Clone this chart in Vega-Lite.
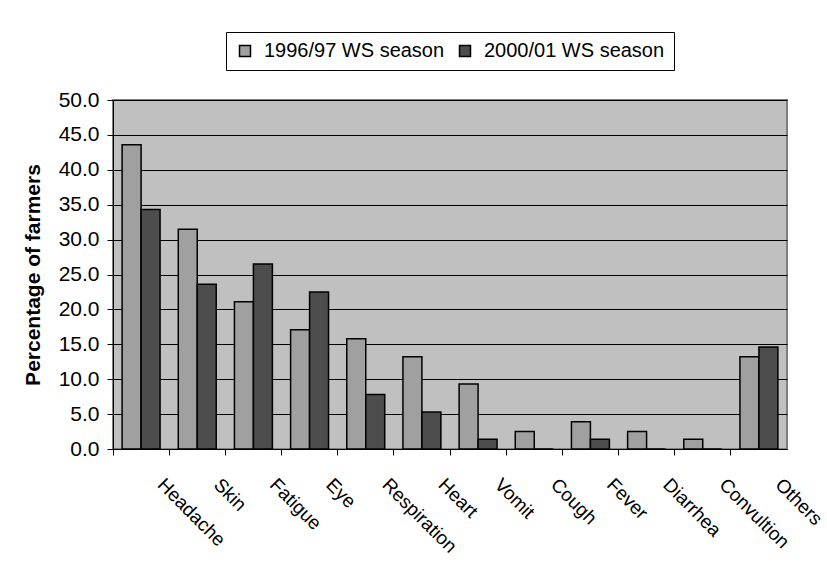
{
  "$schema": "https://vega.github.io/schema/vega-lite/v6.json",
  "autosize": "none",
  "width": 674,
  "height": 349,
  "padding": {"left": 113, "top": 100, "right": 40, "bottom": 116},
  "background": "white",
  "data": {
    "values": [
      {"category": "Headache", "season": "1996/97 WS season", "value": 43.6},
      {"category": "Headache", "season": "2000/01 WS season", "value": 34.3},
      {"category": "Skin", "season": "1996/97 WS season", "value": 31.5},
      {"category": "Skin", "season": "2000/01 WS season", "value": 23.6},
      {"category": "Fatigue", "season": "1996/97 WS season", "value": 21.1},
      {"category": "Fatigue", "season": "2000/01 WS season", "value": 26.5},
      {"category": "Eye", "season": "1996/97 WS season", "value": 17.1},
      {"category": "Eye", "season": "2000/01 WS season", "value": 22.5},
      {"category": "Respiration", "season": "1996/97 WS season", "value": 15.8},
      {"category": "Respiration", "season": "2000/01 WS season", "value": 7.8},
      {"category": "Heart", "season": "1996/97 WS season", "value": 13.2},
      {"category": "Heart", "season": "2000/01 WS season", "value": 5.3},
      {"category": "Vomit", "season": "1996/97 WS season", "value": 9.3},
      {"category": "Vomit", "season": "2000/01 WS season", "value": 1.4},
      {"category": "Cough", "season": "1996/97 WS season", "value": 2.5},
      {"category": "Cough", "season": "2000/01 WS season", "value": 0},
      {"category": "Fever", "season": "1996/97 WS season", "value": 3.9},
      {"category": "Fever", "season": "2000/01 WS season", "value": 1.4},
      {"category": "Diarrhea", "season": "1996/97 WS season", "value": 2.5},
      {"category": "Diarrhea", "season": "2000/01 WS season", "value": 0},
      {"category": "Convultion", "season": "1996/97 WS season", "value": 1.4},
      {"category": "Convultion", "season": "2000/01 WS season", "value": 0},
      {"category": "Others", "season": "1996/97 WS season", "value": 13.2},
      {"category": "Others", "season": "2000/01 WS season", "value": 14.6}
    ]
  },
  "mark": {"type": "bar", "stroke": "#000000", "strokeWidth": 1.5},
  "encoding": {
    "x": {
      "field": "category",
      "type": "nominal",
      "sort": ["Headache", "Skin", "Fatigue", "Eye", "Respiration", "Heart", "Vomit", "Cough", "Fever", "Diarrhea", "Convultion", "Others"],
      "scale": {"paddingInner": 0, "paddingOuter": 0},
      "axis": {
        "title": null,
        "bandPosition": 0,
        "labelAngle": 45,
        "labelAlign": "left",
        "labelBaseline": "top",
        "labelOffset": 26,
        "labelPadding": 20,
        "labelFontSize": 19,
        "labelFont": "Liberation Sans",
        "labelColor": "#000000",
        "labelLimit": 300,
        "labelBound": false,
        "labelOverlap": false,
        "domainColor": "#000000",
        "domainWidth": 1,
        "tickColor": "#000000",
        "tickSize": 6,
        "grid": false
      }
    },
    "xOffset": {
      "field": "season",
      "type": "nominal",
      "scale": {"paddingInner": 0, "paddingOuter": 0.48}
    },
    "y": {
      "field": "value",
      "type": "quantitative",
      "scale": {"domain": [0, 50], "nice": false},
      "axis": {
        "title": "Percentage of farmers",
        "titleFont": "Liberation Sans",
        "titleFontSize": 21,
        "titleFontWeight": "bold",
        "titleColor": "#000000",
        "titlePadding": 15,
        "values": [0, 5, 10, 15, 20, 25, 30, 35, 40, 45, 50],
        "format": ".1f",
        "labelFontSize": 21,
        "labelFont": "Liberation Sans",
        "labelColor": "#000000",
        "labelPadding": 8,
        "domainColor": "#000000",
        "tickColor": "#000000",
        "tickSize": 6,
        "grid": true,
        "gridColor": "#000000",
        "gridWidth": 1
      }
    },
    "color": {
      "field": "season",
      "type": "nominal",
      "scale": {"domain": ["1996/97 WS season", "2000/01 WS season"], "range": ["#a0a0a0", "#4d4d4d"]},
      "legend": {
        "title": null,
        "orient": "none",
        "legendX": 113,
        "legendY": -68,
        "direction": "horizontal",
        "fillColor": "#ffffff",
        "strokeColor": "#000000",
        "padding": 9,
        "labelFont": "Liberation Sans",
        "labelFontSize": 20,
        "labelColor": "#000000",
        "labelLimit": 400,
        "symbolType": "square",
        "symbolSize": 121,
        "symbolStrokeColor": "#000000",
        "symbolStrokeWidth": 1.5,
        "symbolOpacity": 1,
        "columnPadding": 10,
        "labelOffset": 9
      }
    }
  },
  "config": {
    "view": {"fill": "#c0c0c0", "stroke": "#808080", "strokeWidth": 2},
    "bar": {"opacity": 1}
  }
}
